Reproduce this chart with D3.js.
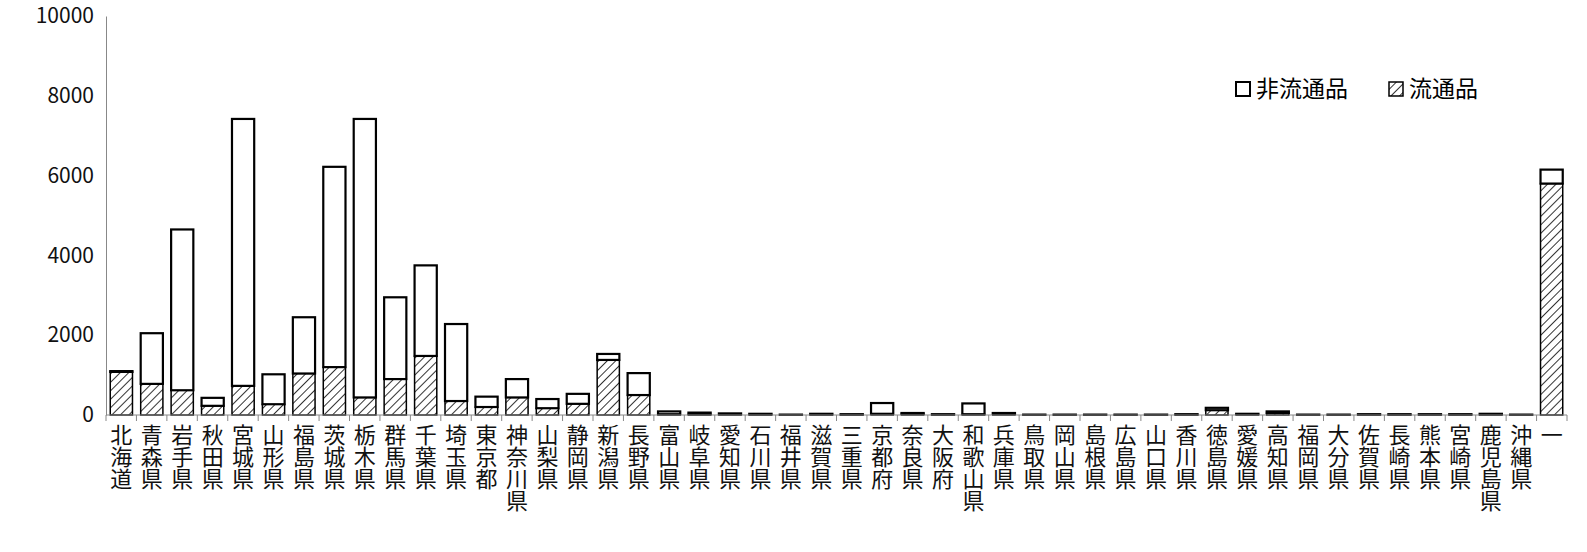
<!DOCTYPE html>
<html lang="ja">
<head>
<meta charset="UTF-8">
<script src="https://d3js.org/d3.v7.min.js"></script>
<style>
  body { margin: 0; background: #fff; }
  text { font-family: "Noto Sans CJK JP", "Liberation Sans", sans-serif; }
</style>
</head>
<body>
<svg id="chart" width="1587" height="552"></svg>
<script>
// prefectures
const prefs = ["北海道","青森県","岩手県","秋田県","宮城県","山形県","福島県","茨城県","栃木県","群馬県",
  "千葉県","埼玉県","東京都","神奈川県","山梨県","静岡県","新潟県","長野県","富山県","岐阜県",
  "愛知県","石川県","福井県","滋賀県","三重県","京都府","奈良県","大阪府","和歌山県","兵庫県",
  "鳥取県","岡山県","島根県","広島県","山口県","香川県","徳島県","愛媛県","高知県","福岡県",
  "大分県","佐賀県","長崎県","熊本県","宮崎県","鹿児島県","沖縄県","一"];
// 流通品
const ryutsu = [1080,780,620,230,730,270,1040,1200,440,900,
  1480,350,200,440,170,280,1380,500,20,20,
  20,15,5,15,10,30,30,10,20,30,
  5,5,5,5,5,10,120,20,50,5,
  5,10,10,10,10,15,5,5800];
// 非流通品
const hiryutsu = [20,1270,4030,200,6690,750,1410,5020,6980,2050,
  2270,1930,260,460,230,250,150,550,70,40,
  20,15,5,15,10,270,20,10,270,20,
  5,5,5,5,5,10,60,10,40,5,
  5,10,10,10,10,15,5,350];
const yTicks = [0,2000,4000,6000,8000,10000];

const svg = d3.select("#chart");
const m = {left: 106, right: 20, top: 16, bottom: 137};
const W = 1587, H = 552;

const x = d3.scaleBand().domain(prefs).range([m.left, W - m.right]).paddingInner(0.27).paddingOuter(0.14);
const y = d3.scaleLinear().domain([0, 10000]).range([H - m.bottom, m.top]);

const defs = svg.append("defs");
const pat = defs.append("pattern").attr("id", "hatch").attr("patternUnits", "userSpaceOnUse")
  .attr("width", 6).attr("height", 6).attr("patternTransform", "rotate(45)");
pat.append("rect").attr("width", 6).attr("height", 6).attr("fill", "#fff");
pat.append("line").attr("x1", 0).attr("y1", 0).attr("x2", 0).attr("y2", 6)
  .attr("stroke", "#000").attr("stroke-width", 1.6);

// y axis
const ya = svg.append("g").attr("transform", `translate(${m.left},0)`)
  .call(d3.axisLeft(y).tickValues(yTicks).tickFormat(d3.format("d")).tickSize(0).tickPadding(12));
ya.select(".domain").attr("stroke", "#888");
ya.selectAll("text").attr("font-size", 21).attr("font-family", "Liberation Sans, sans-serif").attr("fill", "#111");

// bars
const g = svg.append("g");
prefs.forEach((p, i) => {
  const x0 = x(p), bw = x.bandwidth();
  g.append("rect").attr("x", x0).attr("width", bw)
    .attr("y", y(ryutsu[i])).attr("height", y(0) - y(ryutsu[i]))
    .attr("fill", "url(#hatch)").attr("stroke", "#000").attr("stroke-width", 1.5);
  g.append("rect").attr("x", x0).attr("width", bw)
    .attr("y", y(ryutsu[i] + hiryutsu[i])).attr("height", y(ryutsu[i]) - y(ryutsu[i] + hiryutsu[i]))
    .attr("fill", "#fff").attr("stroke", "#000").attr("stroke-width", 2.2);
});

// x axis
const xa = svg.append("g").attr("transform", `translate(0,${y(0)})`);
xa.append("line").attr("x1", m.left).attr("x2", W - m.right).attr("stroke", "#888");
d3.range(prefs.length + 1).forEach(i => {
  const xx = m.left + i * (W - m.right - m.left) / prefs.length;
  xa.append("line").attr("x1", xx).attr("x2", xx).attr("y1", 0).attr("y2", 6).attr("stroke", "#888");
});
xa.selectAll("text.lab").data(prefs).join("text").attr("class", "lab")
  .attr("x", d => x(d) + x.bandwidth() / 2).attr("y", 9)
  .attr("writing-mode", "vertical-rl").attr("font-size", 22).attr("fill", "#111")
  .attr("style", "text-orientation: upright;")
  .text(d => d);

// legend
const lg = svg.append("g").attr("transform", "translate(1236,89)");
lg.append("rect").attr("x", 0).attr("y", -7).attr("width", 14).attr("height", 14).attr("fill", "#fff").attr("stroke", "#000").attr("stroke-width", 2);
lg.append("text").attr("x", 20).attr("y", 8).attr("font-size", 23).text("非流通品");
lg.append("rect").attr("x", 153).attr("y", -7).attr("width", 14).attr("height", 14).attr("fill", "url(#hatch)").attr("stroke", "#000").attr("stroke-width", 1.5);
lg.append("text").attr("x", 173).attr("y", 8).attr("font-size", 23).text("流通品");
</script>
</body>
</html>
